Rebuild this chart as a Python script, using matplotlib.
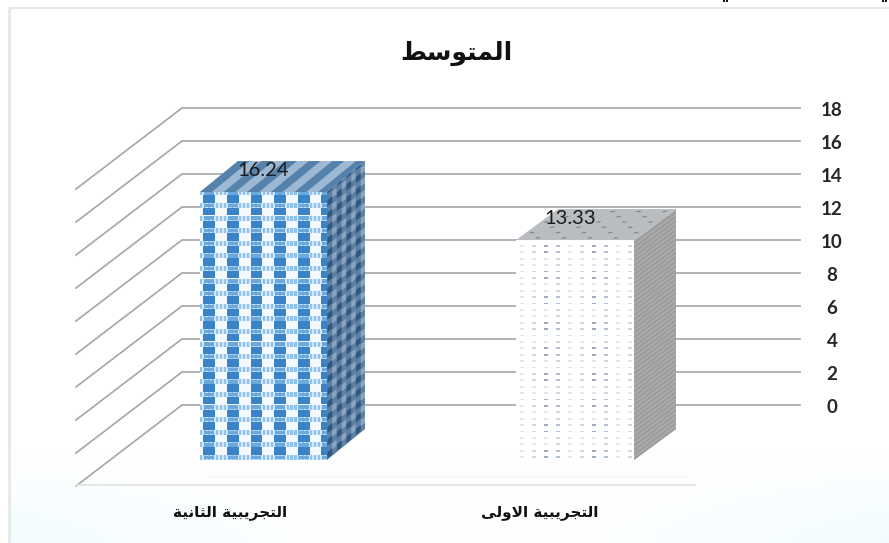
import numpy as np
import matplotlib
matplotlib.use("Agg")
import matplotlib.pyplot as plt
from matplotlib.collections import PolyCollection

# Chart content
title_text = "المتوسط"
categories = ["التجريبية الاولى", "التجريبية الثانية"]
means = [13.33, 16.24]
y_ticks = [0, 2, 4, 6, 8, 10, 12, 14, 16, 18]

# Arabic contextual forms: letter -> (isolated, final, initial, medial)
FORMS = {
    "ا": ("\uFE8D", "\uFE8E", None, None),
    "و": ("\uFEED", "\uFEEE", None, None),
    "ر": ("\uFEAD", "\uFEAE", None, None),
    "ة": ("\uFE93", "\uFE94", None, None),
    "ى": ("\uFEEF", "\uFEF0", None, None),
    "ل": ("\uFEDD", "\uFEDE", "\uFEDF", "\uFEE0"),
    "م": ("\uFEE1", "\uFEE2", "\uFEE3", "\uFEE4"),
    "ت": ("\uFE95", "\uFE96", "\uFE97", "\uFE98"),
    "ث": ("\uFE99", "\uFE9A", "\uFE9B", "\uFE9C"),
    "س": ("\uFEB1", "\uFEB2", "\uFEB3", "\uFEB4"),
    "ط": ("\uFEC1", "\uFEC2", "\uFEC3", "\uFEC4"),
    "ج": ("\uFE9D", "\uFE9E", "\uFE9F", "\uFEA0"),
    "ي": ("\uFEF1", "\uFEF2", "\uFEF3", "\uFEF4"),
    "ب": ("\uFE8F", "\uFE90", "\uFE91", "\uFE92"),
    "ن": ("\uFEE5", "\uFEE6", "\uFEE7", "\uFEE8"),
}


def shape_arabic(text):
    """Join Arabic letters into presentation forms, in left-to-right drawing order."""
    out = []
    i = 0
    n = len(text)
    while i < n:
        ch = text[i]
        if ch not in FORMS:
            out.append(ch)
            i += 1
            continue
        prev = text[i - 1] if i else " "
        joins_prev = prev in FORMS and FORMS[prev][2] is not None
        if ch == "ل" and i + 1 < n and text[i + 1] == "ا":
            out.append("\uFEFC" if joins_prev else "\uFEFB")
            i += 2
            continue
        nxt = text[i + 1] if i + 1 < n else " "
        joins_next = nxt in FORMS and FORMS[ch][2] is not None
        iso, fin, ini, med = FORMS[ch]
        out.append(med if joins_prev and joins_next else fin if joins_prev
                   else ini if joins_next else iso)
        i += 1
    return "".join(reversed(out))


# Oblique layout of the chart box
PX = 16.5                 # pixels per value unit
BACK_LEFT = 182
BACK_RIGHT = 800
WALL_DX, WALL_DY = -106, -81 / PX
BASE = -55 / PX           # front edge of the bars on the value axis
bar_center = {0: 575, 1: 263.5}
bar_half = {0: 59, 1: 63.5}
bar_dx = {0: 42, 1: 38}
bar_dy = 31 / PX

fig = plt.figure(figsize=(8.89, 5.43), dpi=100, facecolor="white")
ax = fig.add_axes([0, 0, 1, 1])
ax.axis("off")


def px(n):
    return n / PX


# Faint tint in the lower corners of the chart card
yy, xx = np.mgrid[0:1:60j, 0:1:120j]
strength = np.clip((yy - 0.84) / 0.16, 0, 1) * (np.abs(xx - 0.5) * 2) ** 1.5
tint = np.ones((60, 120, 3))
tint[..., 0] -= 0.05 * strength
tint[..., 1] -= 0.012 * strength
ax.imshow(tint, extent=(9, 889, -138 / PX, 405 / PX), origin="upper", aspect="auto",
          zorder=0, interpolation="bilinear")
ax.set_xlim(0, 889)
ax.set_ylim(-138 / PX, 405 / PX)

# Card border: only the top and left edges show
ax.plot([9, 889], [px(405 - 8)] * 2, color="#e6e6e6", lw=1.6, zorder=1, solid_capstyle="butt")
ax.plot([9, 9], [px(405 - 8), px(405 - 543)], color="#e8e8e8", lw=2.0, zorder=1, solid_capstyle="butt")

# Clipped descender dots from the line above the card
ax.plot([723.5, 726.5, 882.5, 885.5], [px(405 - 1)] * 4, ls="none", marker="s", ms=1.8,
        color="#111111", mew=0, zorder=1)

# Gridlines on the back and side walls
for tick in y_ticks:
    ax.plot([BACK_LEFT + WALL_DX, BACK_LEFT, BACK_RIGHT],
            [tick + WALL_DY, tick, tick], color="#a8a8a8", lw=1.25, zorder=2,
            solid_joinstyle="miter")
    ax.text(832, tick - px(2.8), str(tick), family="Lato", weight="bold", fontsize=13.5,
            color="#262626", ha="center", va="center", zorder=6)

# Front edge of the floor
ax.plot([BACK_LEFT + WALL_DX, 695], [BASE + px(-25)] * 2, color="#e2e2e2", lw=1.2, zorder=2)
ax.plot([205, 690], [BASE + px(-16)] * 2, color="#f6f6f6", lw=1.0, zorder=2)


def cells(origin, u_vec, v_vec, u_step, v_step, boxes, colors):
    """Tile a parallelogram face with rectangles placed inside each repeating tile.

    Each box is (u0, v0, u1, v1, pick), in tile fractions; pick(i, j) selects the colour.
    """
    origin = np.asarray(origin, float)
    u_vec = np.asarray(u_vec, float)
    v_vec = np.asarray(v_vec, float)
    polys, cols = [], []
    for i in range(int(1 / u_step) + 2):
        for j in range(int(1 / v_step) + 2):
            for (u0, v0, u1, v1, pick) in boxes:
                a = np.clip((i + u0) * u_step, 0, 1)
                b = np.clip((i + u1) * u_step, 0, 1)
                c = np.clip((j + v0) * v_step, 0, 1)
                d = np.clip((j + v1) * v_step, 0, 1)
                if b <= a or d <= c:
                    continue
                polys.append([origin + a * u_vec + c * v_vec,
                              origin + b * u_vec + c * v_vec,
                              origin + b * u_vec + d * v_vec,
                              origin + a * u_vec + d * v_vec])
                cols.append(colors[pick(i, j)])
    return PolyCollection(polys, facecolors=cols, edgecolors="none", zorder=4)


def face(points, color):
    ax.fill([p[0] for p in points], [p[1] for p in points], color=color, lw=0, zorder=3.5)


def blue_bar(x0, x1, value, dx):
    top = BASE + value
    v_front = (0, value)
    # Front: checks of dark blue between dotted light-blue bands
    w, h = x1 - x0, value * PX
    face([(x0, BASE), (x1, BASE), (x1, top), (x0, top)], "#f4f9fd")
    ustep, vstep = 23.6 / w, 12.6 / h
    dots = [(k / 6, 0.0, (k + 0.55) / 6, 0.40, lambda i, j: 1) for k in range(6)]
    boxes = [(0.14, 0.42, 0.64, 1.0, lambda i, j: 0),
             (0.0, 0.0, 1.0, 0.40, lambda i, j: 3)] + dots + \
            [(0.18, 0.06, 0.60, 0.34, lambda i, j: 2)]
    ax.add_collection(cells((x0, BASE), (w, 0), v_front, ustep, vstep, boxes,
                            ["#3a83c6", "#8fc3ee", "#6aa9df", "#d3e6f7"]))
    # Side: dark columns, staggered with lighter squares
    face([(x1, BASE), (x1 + dx, BASE + bar_dy), (x1 + dx, top + bar_dy), (x1, top)], "#5f7fa3")
    boxes = [(0.05, 0.1, 0.55, 0.6, lambda i, j: 0),
             (0.55, 0.5, 1.0, 1.0, lambda i, j: 1)]
    ax.add_collection(cells((x1, BASE), (dx, bar_dy), v_front, 9.5 / dx, 12.6 / h, boxes,
                            ["#2f5880", "#8aa5c2"]))
    # Top: stripes running back along the depth
    face([(x0, top), (x1, top), (x1 + dx, top + bar_dy), (x0 + dx, top + bar_dy)], "#9db8d3")
    boxes = [(0.0, 0.0, 0.5, 1.0, lambda i, j: 0)]
    ax.add_collection(cells((x0, top), (w, 0), (dx, bar_dy), 23.6 / w, 1.0, boxes, ["#5482ab"]))


def grey_bar(x0, x1, value, dx):
    top = BASE + value
    v_front = (0, value)
    w, h = x1 - x0, value * PX
    # Front: white with rows of small dashes, stronger in every other pair of columns
    shades = ["#e3e8ee", "#d0d9e2", "#9eacbd", "#b4c0cd"]
    boxes = [(0.3, 0.3, 0.7, 0.6, lambda i, j: (i % 4 if j % 4 < 2 else max(i % 4 - 2, 0)))]
    face([(x0, BASE), (x1, BASE), (x1, top), (x0, top)], "#ffffff")
    ax.add_collection(cells((x0, BASE), (w, 0), v_front, 12 / w, 6.4 / h, boxes, shades))
    # Side: mid grey with fine horizontal lines
    face([(x1, BASE), (x1 + dx, BASE + bar_dy), (x1 + dx, top + bar_dy), (x1, top)], "#ababab")
    boxes = [(0.0, 0.0, 1.0, 0.45, lambda i, j: 0)]
    ax.add_collection(cells((x1, BASE), (dx, bar_dy), v_front, 1.0, 4.5 / h, boxes, ["#9a9a9a"]))
    # Top: grey scattered with darker flecks
    face([(x0, top), (x1, top), (x1 + dx, top + bar_dy), (x0 + dx, top + bar_dy)], "#b9bdc1")
    boxes = [(0.3, 0.3, 0.62, 0.55, lambda i, j: 0 if (i + j) % 2 else 1)]
    ax.add_collection(cells((x0, top), (w, 0), (dx, bar_dy), 13 / w, 0.17, boxes,
                            ["#83888d", "#b9bdc1"]))


for idx, value in enumerate(means):
    x0 = bar_center[idx] - bar_half[idx]
    x1 = bar_center[idx] + bar_half[idx]
    (grey_bar if idx == 0 else blue_bar)(x0, x1, value, bar_dx[idx])
    ax.text(bar_center[idx] - (5 if idx == 0 else 0), BASE + value + px(21.5),
            f"{value:.2f}", family="Lato", fontsize=14.5, color="#1a1a1a",
            ha="center", va="center", zorder=7)
    ax.text(bar_center[idx] - (35 if idx == 0 else 33), px(405 - 512),
            shape_arabic(categories[idx]), family="DejaVu Sans", weight="bold",
            fontsize=11, color="#111111", ha="center", va="center", zorder=6)

ax.text(456, px(405 - 53), shape_arabic(title_text), family="DejaVu Sans", weight="bold",
        fontsize=18, color="#111111", ha="center", va="center", zorder=6)

fig.savefig("out.png", dpi=100)
